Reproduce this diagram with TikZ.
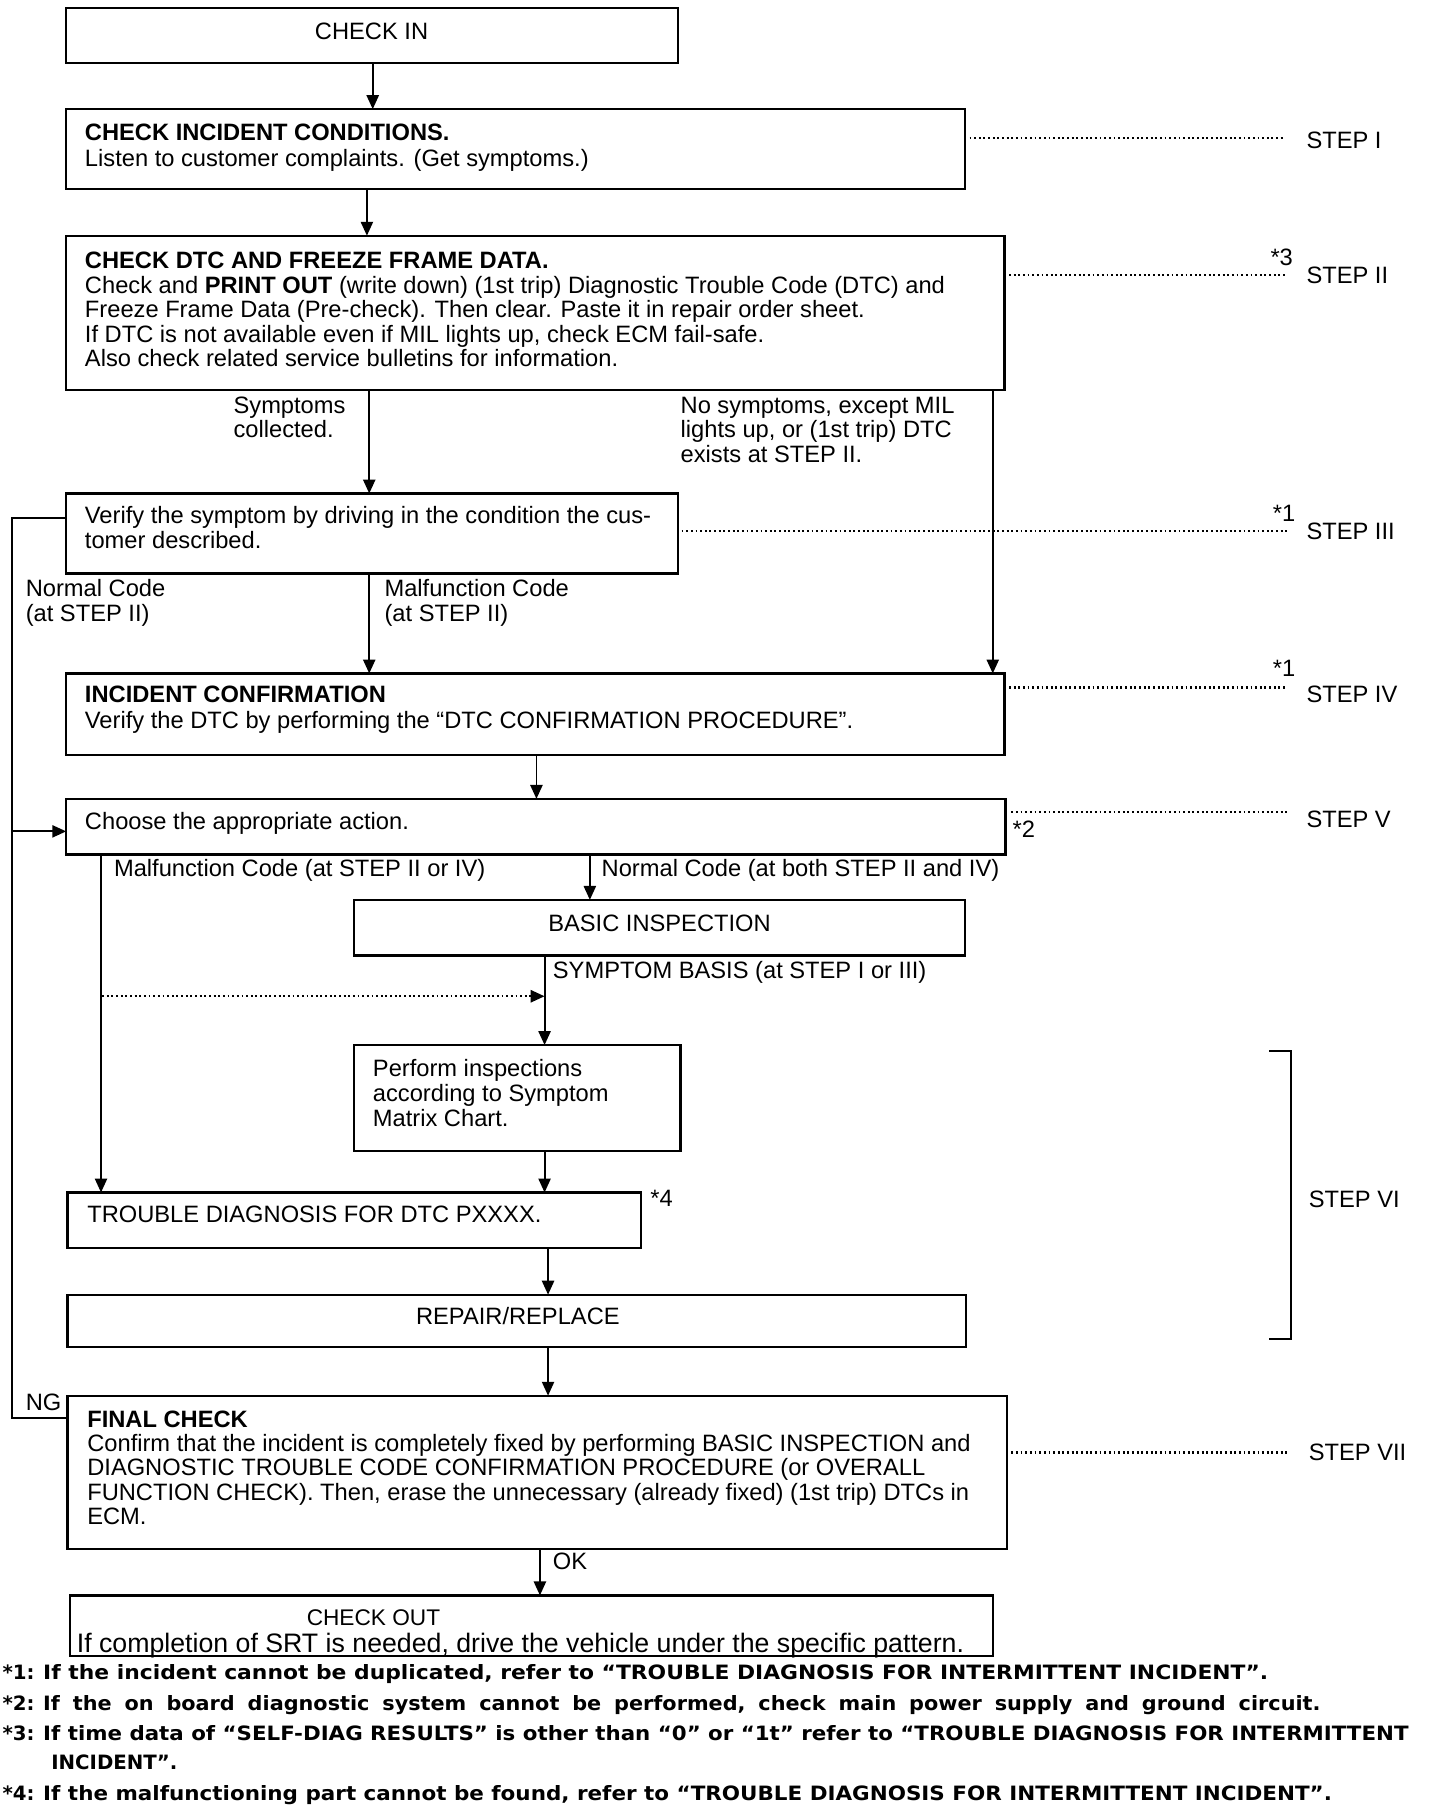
\documentclass[tikz,border=0pt]{standalone}
\usepackage{graphicx}
\usepackage{fontspec}
\setmainfont{Liberation Sans}
\newfontfamily\fnfont{DejaVu Sans}
\usetikzlibrary{arrows.meta}
\newcommand\bodyf{\fontsize{20.4}{21}\selectfont}
\newcommand\footf{\fnfont\fontsize{17}{20}\selectfont\bfseries}
\newsavebox\fitbx
\newcommand\fnfit[2]{\sbox\fitbx{#2}\resizebox{#1pt}{\ht\fitbx}{\usebox\fitbx}}
\newcommand\bx[5]{\node[box, minimum width=\fpeval{#4-#2}pt, minimum height=\fpeval{#5-#3}pt] (#1) at (#2,#3) {};}
\newcommand\tl[4]{\node[txt] (#1) at (#2,#3) {#4};}
\begin{document}
\begin{tikzpicture}[x=1pt, y=-1pt,
  box/.style={draw, line width=2pt, inner sep=0pt, outer sep=0pt, anchor=north west},
  txt/.style={inner sep=0pt, anchor=base west, font=\bodyf},
  ctxt/.style={inner sep=0pt, anchor=base, font=\bodyf},
  ftxt/.style={inner sep=0pt, anchor=base west, font=\footf},
  ln/.style={line width=1.6pt},
  arr/.style={line width=1.6pt, -{Triangle[length=12pt,width=10.5pt]}},
  dotl/.style={line width=1.9pt, dash pattern=on 1.6pt off 2.4pt}]
\useasboundingbox (0,0) rectangle (1240,1564);
% boxes
\bx{checkin}{57}{7}{584}{54}
\bx{incident}{57}{94}{831}{163}
\bx{dtc}{57}{203}{865}{336}
\bx{verify}{57}{425}{584}{494}
\bx{confirm}{57}{580}{865}{650}
\bx{choose}{57}{688}{866}{736}
\bx{basic}{305}{775}{831}{823}
\bx{perform}{305}{900}{586}{991}
\bx{trouble}{58}{1027}{552}{1075}
\bx{repair}{58}{1115}{832}{1160}
\bx{final}{58}{1202}{867}{1334}
\bx{checkout}{60}{1374}{855}{1426}
% box texts
\node[ctxt] (tcheckin) at (320,34) {CHECK IN};
\tl{tinc1}{73}{121}{\textbf{CHECK INCIDENT CONDITIONS.}}
\tl{tinc2}{73}{143.5}{Listen to customer complaints. (Get symptoms.)}
\tl{tdtc1}{73}{231}{\textbf{CHECK DTC AND FREEZE FRAME DATA.}}
\tl{tdtc2}{73}{252.5}{Check and \textbf{PRINT OUT} (write down) (1st trip) Diagnostic Trouble Code (DTC) and}
\tl{tdtc3}{73}{273.5}{Freeze Frame Data (Pre-check). Then clear. Paste it in repair order sheet.}
\tl{tdtc4}{73}{295}{If DTC is not available even if MIL lights up, check ECM fail-safe.}
\tl{tdtc5}{73}{316}{Also check related service bulletins for information.}
\tl{tsym1}{201}{356}{Symptoms}
\tl{tsym2}{201}{377}{collected.}
\tl{tnos1}{586}{356}{No symptoms, except MIL}
\tl{tnos2}{586}{377}{lights up, or (1st trip) DTC}
\tl{tnos3}{586}{398}{exists at STEP II.}
\tl{tver1}{73}{451}{Verify the symptom by driving in the condition the cus-}
\tl{tver2}{73}{472}{tomer described.}
\tl{tnc1}{22}{514}{Normal Code}
\tl{tnc2}{22}{535}{(at STEP II)}
\tl{tmc1}{331}{514}{Malfunction Code}
\tl{tmc2}{331}{535}{(at STEP II)}
\tl{tcon1}{73}{605}{\textbf{INCIDENT CONFIRMATION}}
\tl{tcon2}{73}{627}{Verify the DTC by performing the “DTC CONFIRMATION PROCEDURE”.}
\tl{tcho}{73}{714}{Choose the appropriate action.}
\tl{tmc3}{98}{755}{Malfunction Code (at STEP II or IV)}
\tl{tnc3}{518}{755}{Normal Code (at both STEP II and IV)}
\node[ctxt] (tbasic) at (568,802) {BASIC INSPECTION};
\tl{tsb}{476}{843}{SYMPTOM BASIS (at STEP I or III)}
\tl{tper1}{321}{927}{Perform inspections}
\tl{tper2}{321}{949}{according to Symptom}
\tl{tper3}{321}{970}{Matrix Chart.}
\tl{ttro}{75}{1053}{TROUBLE DIAGNOSIS FOR DTC PXXXX.}
\tl{tn4}{560}{1039}{*4}
\node[ctxt] (trep) at (446,1141) {REPAIR/REPLACE};
\tl{tng}{22}{1215}{NG}
\tl{tfin1}{75}{1229}{\textbf{FINAL CHECK}}
\tl{tfin2}{75}{1250}{Confirm that the incident is completely fixed by performing BASIC INSPECTION and}
\tl{tfin3}{75}{1271}{DIAGNOSTIC TROUBLE CODE CONFIRMATION PROCEDURE (or OVERALL}
\tl{tfin4}{75}{1292}{FUNCTION CHECK). Then, erase the unnecessary (already fixed) (1st trip) DTCs in}
\tl{tfin5}{75}{1313}{ECM.}
\tl{tok}{476}{1352}{OK}
\node[txt, font=\fontsize{19.5}{21}\selectfont] (tco1) at (264,1400) {CHECK OUT};
\node[txt, font=\fontsize{23}{24}\selectfont] (tco2) at (66,1423) {If completion of SRT is needed, drive the vehicle under the specific pattern.};
% step labels
\tl{s1}{1125}{128}{STEP I}
\tl{s2}{1125}{244}{STEP II}
\tl{s3}{1125}{465}{STEP III}
\tl{s4}{1125}{605}{STEP IV}
\tl{s5}{1125}{713}{STEP V}
\tl{s6}{1127}{1040}{STEP VI}
\tl{s7}{1127}{1258}{STEP VII}
\tl{n3}{1094}{229}{*3}
\tl{n1a}{1096}{449}{*1}
\tl{n1b}{1096}{583}{*1}
\tl{n2}{872}{721}{*2}
% dotted step leaders
\coordinate (e1) at (1106,119);
\coordinate (e2) at (1108,237);
\coordinate (e3) at (1108,457);
\coordinate (e4) at (1108,592);
\coordinate (e5) at (1108,699);
\coordinate (e7) at (1108,1251);
\draw[dotl] (incident.east |- e1) ++(4,0) -- (e1);
\draw[dotl] (dtc.east |- e2) ++(4,0) -- (e2);
\draw[dotl] (verify.east |- e3) ++(3,0) -- (e3);
\draw[dotl] (confirm.east |- e4) ++(4,0) -- (e4);
\draw[dotl] (choose.east |- e5) ++(5,0) -- (e5);
\draw[dotl] (final.east |- e7) ++(4,0) -- (e7);
% bracket STEP VI
\draw[ln] (1093,905) -- (1112,905) -- (1112,1153) -- (1093,1153);
% connectors
\draw[arr] (checkin.south -| 321,0) -- (incident.north -| 321,0);
\draw[arr] (incident.south -| 316,0) -- (dtc.north -| 316,0);
\draw[arr] (dtc.south -| 318,0) -- (verify.north -| 318,0);
\draw[arr] (dtc.south -| 855,0) -- (confirm.north -| 855,0);
\draw[arr] (verify.south -| 318,0) -- (confirm.north -| 318,0);
\draw[arr] (confirm.south -| 462,0) -- (choose.north -| 462,0);
\draw[arr] (choose.south -| 87,0) -- (trouble.north -| 87,0);
\draw[arr] (choose.south -| 508,0) -- (basic.north -| 508,0);
\draw[arr] (basic.south -| 469,0) -- (perform.north -| 469,0);
\draw[arr] (perform.south -| 469,0) -- (trouble.north -| 469,0);
\draw[arr] (trouble.south -| 472,0) -- (repair.north -| 472,0);
\draw[arr] (repair.south -| 472,0) -- (final.north -| 472,0);
\draw[arr] (final.south -| 465,0) -- (checkout.north -| 465,0);
% loop back
\draw[ln] (verify.west |- 0,446) -- (10,446) -- (10,1221) -- (final.west |- 0,1221);
\coordinate (lj) at (10,716);
\draw[arr] (lj) -- (choose.west |- lj);
% dotted shortcut
\coordinate (da) at (88,858);
\coordinate (db) at (469,858);
\draw[dotl, -{Triangle[length=12pt,width=10.5pt]}] (da) -- (db);
% footnotes
\node[ftxt] (f1l) at (2,1446.5) {*1:};
\node[ftxt] (f1) at (37,1446.5) {\fnfit{1055}{If the incident cannot be duplicated, refer to “TROUBLE DIAGNOSIS FOR INTERMITTENT INCIDENT”.}};
\node[ftxt] (f2l) at (2,1473) {*2:};
\node[ftxt] (f2) at (37,1473) {\fnfit{1100}{\spaceskip=0.62em If the on board diagnostic system cannot be performed, check main power supply and ground circuit.}};
\node[ftxt] (f3l) at (2,1499) {*3:};
\node[ftxt] (f3) at (37,1499) {\fnfit{1176}{If time data of “SELF-DIAG RESULTS” is other than “0” or “1t” refer to “TROUBLE DIAGNOSIS FOR INTERMITTENT}};
\node[ftxt] (f3b) at (44,1524) {INCIDENT”.};
\node[ftxt] (f4l) at (2,1551) {*4:};
\node[ftxt] (f4) at (37,1551) {\fnfit{1110}{If the malfunctioning part cannot be found, refer to “TROUBLE DIAGNOSIS FOR INTERMITTENT INCIDENT”.}};
\end{tikzpicture}
\end{document}
